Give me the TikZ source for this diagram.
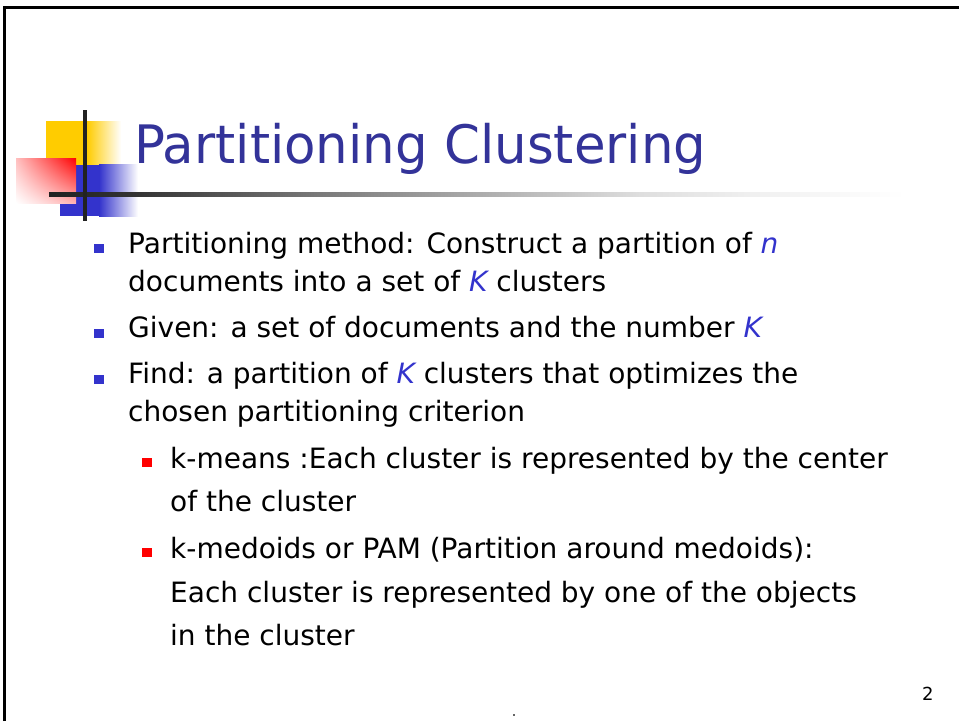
\documentclass[tikz,border=0pt]{standalone}
\usepackage{fontspec}
\usetikzlibrary{shadings}
\setmainfont{DejaVu Sans}
\newfontfamily\titlefont{DejaVu Sans}[FakeStretch=0.97]
\definecolor{titleblue}{HTML}{333399}
\definecolor{kblue}{HTML}{3333CC}
\definecolor{yellowc}{HTML}{FFCC00}
\definecolor{bluec}{HTML}{3333CC}
\definecolor{linec}{HTML}{222222}
\definecolor{redc}{HTML}{FF0000}
\pgfdeclarehorizontalshading{hline}{100bp}{color(0bp)=(black!87); color(25bp)=(black!87); color(30bp)=(black!80); color(40.5bp)=(black!53); color(50bp)=(black!33); color(59.5bp)=(black!13); color(66bp)=(black!6); color(75bp)=(white); color(100bp)=(white)}
\newcommand{\kv}[1]{\textcolor{kblue}{\itshape #1}}
\begin{document}
\begin{tikzpicture}[x=1pt,y=-1pt,
  body/.style={anchor=base west,inner sep=0pt,font=\fontsize{28}{34}\selectfont},
  bulletA/.style={fill=kblue},
  bulletB/.style={fill=redc}]
\useasboundingbox (0,0) rectangle (959,721);
% frame
\draw[line width=3pt,black] (4.5,721) -- (4.5,7.5) -- (959,7.5);
% title decoration
\fill[yellowc] (46,121) rectangle (87,166);
\shade[left color=yellowc,right color=white] (87,121) rectangle (121,166);
\fill[bluec] (60,165) rectangle (99,216);
\shade[left color=bluec,right color=white] (99,164) rectangle (138,216);
\shade[upper right=redc,upper left=redc!25,lower left=white,lower right=redc!30] (16,158) rectangle (76,203);
\shade[shading=hline] (49,192.5) rectangle (905,196.5);
\fill[linec] (83,110) rectangle (87,221);
% title
\node[anchor=base west,inner sep=0pt,text=titleblue,font=\titlefont\fontsize{53}{60}\selectfont] (title) at (134,163) {Partitioning Clustering};
% bullets level 1
\fill[bulletA] (94,244) rectangle (104,253);
\node[body] (l1) at (128,253) {Partitioning method: Construct a partition of \kv{n}};
\node[body] (l2) at (128,291.5) {documents into a set of \kv{K} clusters};
\fill[bulletA] (94,328.5) rectangle (104,337.5);
\node[body] (l3) at (128,337.5) {Given: a set of documents and the number \kv{K}};
\fill[bulletA] (94,374.5) rectangle (104,383.5);
\node[body] (l4) at (128,383.5) {Find: a partition of \kv{K} clusters that optimizes the};
\node[body] (l5) at (128,421.5) {chosen partitioning criterion};
% bullets level 2
\fill[bulletB] (142,458) rectangle (152,467);
\node[body] (l6) at (170,468) {k-means :Each cluster is represented by the center};
\node[body] (l7) at (170,511) {of the cluster};
\fill[bulletB] (142,548) rectangle (152,557);
\node[body] (l8) at (170,558) {k-medoids or PAM (Partition around medoids):};
\node[body] (l9) at (170,602) {Each cluster is represented by one of the objects};
\node[body] (l10) at (170,645) {in the cluster};
% page number
\node[anchor=base west,inner sep=0pt,font=\fontsize{18}{20}\selectfont] (pg) at (922,700.5) {2};
\fill[black!60] (513,714) rectangle (515,716);
\end{tikzpicture}
\end{document}
